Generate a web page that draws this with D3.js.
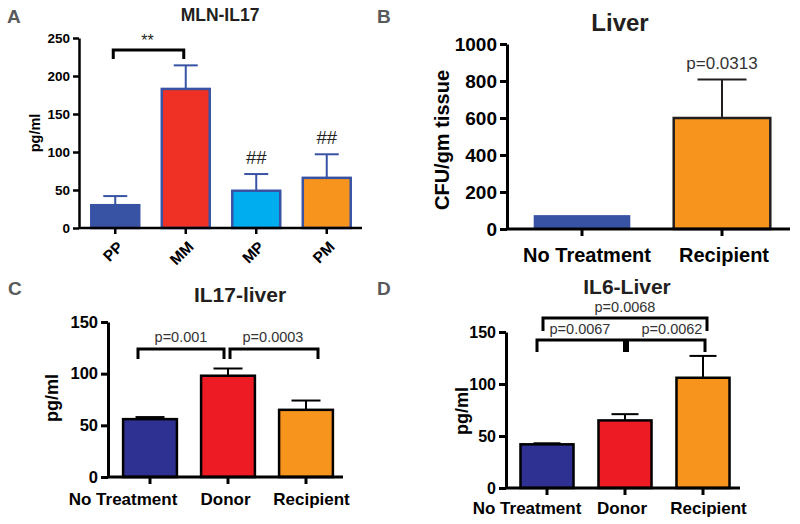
<!DOCTYPE html>
<html><head><meta charset="utf-8">
<script src="https://cdn.jsdelivr.net/npm/d3@7"></script>
<style>body{margin:0;background:#fff} svg, svg text{font-family:"Liberation Sans",Arial,sans-serif}</style>
</head><body><svg id="c" width="800" height="524"></svg>
<script>
// ---- data ----
const aCategories = ["PP","MM","MP","PM"];
const aMeans = [30,183,49,66];
const aUpper = [42,214,71,97];
const aTicks = [0,50,100,150,200,250];

const bCategories = ["No Treatment","Recipient"];
const bMeans = [75,600];
const bUpper = [null,808];
const bTicks = [0,200,400,600,800,1000];

const cCategories = ["No Treatment","Donor","Recipient"];
const cMeans = [56,98,65];
const cUpper = [58,105,74];
const cTicks = [0,50,100,150];

const dCategories = ["No Treatment","Donor","Recipient"];
const dMeans = [42,65,106];
const dUpper = [43,71,127];
const dTicks = [0,50,100,150];

// ---- styles ----
const aFill = ["#3953a4","#ee3124","#00aeef","#f7941d"];
const bFill = ["#3953a4","#f7941d"];
const cFill = ["#2e3192","#ed1c24","#f7941d"];

const svg = d3.select("#c");
const FONT = "Liberation Sans, Arial, sans-serif";

function panel(o){
  const g = svg.append("g");
  const x = d3.scaleBand().domain(o.cats).range(o.xr).paddingInner(o.pi).paddingOuter(o.pi/2);
  const y = d3.scaleLinear().domain([0,o.ymax]).range(o.yr);
  const data = o.cats.map((c,i)=>({c, v:o.means[i], u:o.upper[i], i}));
  // error bars
  const eb = g.selectAll(".eb").data(data.filter(d=>d.u!=null)).join("g");
  eb.append("line").attr("x1",d=>x(d.c)+x.bandwidth()/2).attr("x2",d=>x(d.c)+x.bandwidth()/2)
    .attr("y1",d=>y(d.v)).attr("y2",d=>y(d.u)).attr("stroke",o.errColor).attr("stroke-width",2);
  eb.append("line").attr("x1",d=>x(d.c)+x.bandwidth()/2-o.cap/2).attr("x2",d=>x(d.c)+x.bandwidth()/2+o.cap/2)
    .attr("y1",d=>y(d.u)).attr("y2",d=>y(d.u)).attr("stroke",o.errColor).attr("stroke-width",2);
  // bars
  g.selectAll(".bar").data(data).join("rect")
    .attr("x",d=>x(d.c)).attr("width",x.bandwidth())
    .attr("y",d=>y(d.v)).attr("height",d=>y(0)-y(d.v))
    .attr("fill",d=>o.fill[d.i])
    .attr("stroke",d=>o.stroke[d.i]||"none").attr("stroke-width",o.sw);
  // y axis
  const ya = g.append("g").attr("transform",`translate(${o.ax},0)`)
    .call(d3.axisLeft(y).tickValues(o.ticks).tickFormat(d3.format("d")).tickSize(o.ts).tickSizeOuter(0).tickPadding(o.tp));
  ya.attr("font-family",FONT);
  ya.selectAll("path,line").attr("stroke","#000").attr("stroke-width",o.aw);
  ya.selectAll("text").attr("font-size",o.tfs).attr("font-weight","bold").attr("fill","#000");
  // x axis
  const xa = g.append("g").attr("transform",`translate(0,${y(0)})`)
    .call(d3.axisBottom(x).tickSize(o.ts).tickPadding(o.xtp));
  xa.attr("font-family",FONT);
  xa.select(".domain").remove();
  xa.selectAll("line").attr("stroke","#000").attr("stroke-width",o.aw);
  xa.selectAll("text").attr("font-size",o.xfs).attr("font-weight","bold").attr("fill","#000");
  if(o.rot){
    xa.selectAll("text").attr("text-anchor","end").attr("dy","0.35em")
      .attr("transform","translate(5,16) rotate(-45)").attr("y",0).attr("x",0);
  } else if(o.xdx){
    xa.selectAll("text").attr("dx",(d,i)=>o.xdx[i]);
  }
  g.append("line").attr("x1",o.ax).attr("x2",o.xend).attr("y1",y(0)).attr("y2",y(0))
    .attr("stroke","#000").attr("stroke-width",o.aw);
  // title
  g.append("text").attr("x",o.title[1]).attr("y",o.title[2]).attr("text-anchor","middle")
    .attr("font-size",o.title[3]).attr("font-weight","bold").attr("fill","#231f20").text(o.title[0]);
  // y label
  g.append("text").attr("transform",`translate(${o.ylab[1]},${o.ylab[2]}) rotate(-90)`)
    .attr("text-anchor","middle").attr("font-size",o.ylab[3]).attr("font-weight","bold").attr("fill","#000").text(o.ylab[0]);
  // letter
  g.append("text").attr("x",o.letter[1]).attr("y",o.letter[2]).attr("font-size",19)
    .attr("font-weight","bold").attr("fill","#58595b").text(o.letter[0]);
  return {g,x,y};
}

// Panel A
const A = panel({cats:aCategories,means:aMeans,upper:aUpper,ticks:aTicks,ymax:250,
  xr:[80,362],yr:[228,38],pi:0.32,fill:aFill,stroke:["#3953a4","#3953a4","#3953a4","#3953a4"],sw:2.5,
  errColor:"#3953a4",cap:24,ax:79,xend:362,aw:2.5,ts:6,tp:3,tfs:13.5,xtp:3,xfs:15.5,rot:true,
  title:["MLN-IL17",220,21,17.5],ylab:["pg/ml",40,133,14.5],letter:["A",7,23]});
{
  const {g,x,y} = A;
  const cx = c=>x(c)+x.bandwidth()/2;
  const yb = 50;
  g.append("path").attr("d",`M${cx("PP")-2},${yb+9}V${yb}H${cx("MM")-2}V${yb+9}`)
    .attr("fill","none").attr("stroke","#000").attr("stroke-width",3);
  g.append("text").attr("x",(cx("PP")+cx("MM"))/2-3).attr("y",46).attr("text-anchor","middle")
    .attr("font-size",16).attr("fill","#231f20").text("**");
  [["MP",2],["PM",3]].forEach(([c,i])=>{
    g.append("text").attr("x",cx(c)).attr("y",y(aUpper[i])-10).attr("text-anchor","middle")
      .attr("font-size",18.5).attr("fill","#231f20").text("##");
  });
}

// Panel B
const B = panel({cats:bCategories,means:bMeans,upper:bUpper,ticks:bTicks,ymax:1000,
  xr:[512,792],yr:[229,44],pi:0.31,fill:bFill,stroke:[null,"#231f20"],sw:2.5,
  errColor:"#231f20",cap:49,ax:507,xend:790,aw:3,ts:7,tp:3,tfs:19,xtp:12,xfs:20,xdx:[5,2],
  title:["Liver",620,31,24],ylab:["CFU/gm tissue",449,140,20],letter:["B",377,23]});
{
  const {g,x,y} = B;
  g.append("text").attr("x",x("Recipient")+x.bandwidth()/2).attr("y",y(808)-11).attr("text-anchor","middle")
    .attr("font-size",17).attr("fill","#333").text("p=0.0313");
}

// Panel C
const C = panel({cats:cCategories,means:cMeans,upper:cUpper,ticks:cTicks,ymax:150,
  xr:[111,345],yr:[477,322],pi:0.31,fill:cFill,stroke:["#000","#000","#000"],sw:2.5,
  errColor:"#000",cap:29,ax:108,xend:343,aw:3,ts:7,tp:3,tfs:16.5,xtp:9,xfs:17,xdx:[-27,-2.5,5.5],
  title:["IL17-liver",240,302,21],ylab:["pg/ml",58,398,18],letter:["C",8,295]});
{
  const {g} = C;
  const yb = 349;
  g.append("path").attr("d",`M138,${yb+10}V${yb}H224V${yb+10}`).attr("fill","none").attr("stroke","#000").attr("stroke-width",3);
  g.append("path").attr("d",`M230,${yb+10}V${yb}H318V${yb+10}`).attr("fill","none").attr("stroke","#000").attr("stroke-width",3);
  g.append("text").attr("x",181).attr("y",342).attr("text-anchor","middle").attr("font-size",14.5).attr("fill","#333").text("p=0.001");
  g.append("text").attr("x",273).attr("y",342).attr("text-anchor","middle").attr("font-size",14.5).attr("fill","#333").text("p=0.0003");
}

// Panel D
const D = panel({cats:dCategories,means:dMeans,upper:dUpper,ticks:dTicks,ymax:150,
  xr:[508,742],yr:[488,332],pi:0.32,fill:cFill,stroke:["#000","#000","#000"],sw:2.5,
  errColor:"#000",cap:27,ax:506,xend:740,aw:3,ts:7,tp:3,tfs:16,xtp:7,xfs:17,xdx:[-20,-3,5.5],
  title:["IL6-Liver",627,294,21],ylab:["pg/ml",468,411,18],letter:["D",377,295]});
{
  const {g} = D;
  g.append("path").attr("d",`M537,352V340H705V352`).attr("fill","none").attr("stroke","#000").attr("stroke-width",3);
  g.append("rect").attr("x",623).attr("y",340).attr("width",6).attr("height",12).attr("fill","#000");
  g.append("path").attr("d",`M543,331V318H707V331`).attr("fill","none").attr("stroke","#000").attr("stroke-width",3);
  g.append("text").attr("x",625).attr("y",312).attr("text-anchor","middle").attr("font-size",14.5).attr("fill","#333").text("p=0.0068");
  g.append("text").attr("x",580).attr("y",334).attr("text-anchor","middle").attr("font-size",14.5).attr("fill","#333").text("p=0.0067");
  g.append("text").attr("x",672).attr("y",334).attr("text-anchor","middle").attr("font-size",14.5).attr("fill","#333").text("p=0.0062");
}
</script></body></html>
